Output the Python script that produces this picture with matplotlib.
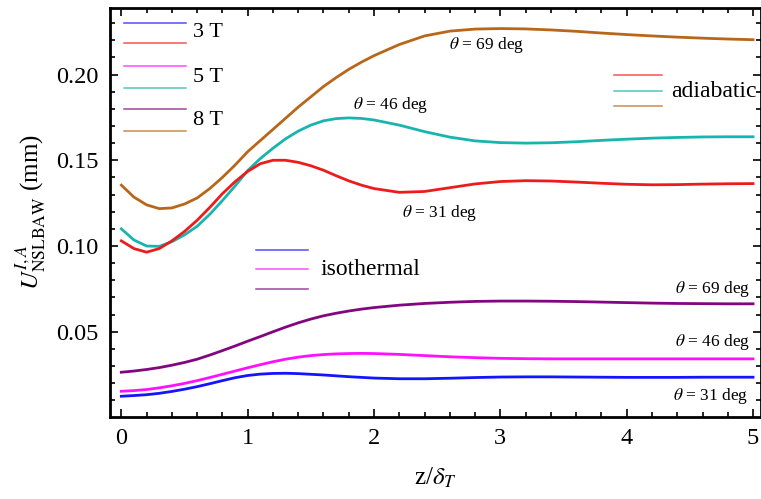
import matplotlib
matplotlib.use("Agg")
import matplotlib.pyplot as plt
from matplotlib.lines import Line2D
from matplotlib.ticker import MultipleLocator

plt.rcParams.update({
    "font.family": "serif",
    "font.serif": ["Liberation Serif", "DejaVu Serif"],
    "mathtext.fontset": "stix",
})

# --- data --------------------------------------------------------
z = [0.0, 0.1, 0.2, 0.3, 0.4, 0.5, 0.6, 0.7, 0.8, 0.9, 1.0,
     1.1, 1.2, 1.3, 1.4, 1.5, 1.6, 1.7, 1.8, 1.9, 2.0,
     2.2, 2.4, 2.6, 2.8, 3.0, 3.2, 3.4, 3.6, 3.8, 4.0, 4.2, 4.4, 4.6, 4.8, 5.0]

adi_3T = [0.1030, 0.0985, 0.0964, 0.0985, 0.1030, 0.1085, 0.1150, 0.1225, 0.1305, 0.1375, 0.1435,
          0.1480, 0.1500, 0.1500, 0.1488, 0.1468, 0.1442, 0.1410, 0.1380, 0.1355, 0.1335,
          0.1313, 0.1318, 0.1340, 0.1362, 0.1376, 0.1381, 0.1379, 0.1373, 0.1366, 0.1360,
          0.1357, 0.1358, 0.1361, 0.1363, 0.1364]
adi_5T = [0.1100, 0.1035, 0.1000, 0.0998, 0.1025, 0.1065, 0.1115, 0.1185, 0.1265, 0.1350, 0.1440,
          0.1510, 0.1570, 0.1625, 0.1670, 0.1705, 0.1730, 0.1743, 0.1747, 0.1744, 0.1735,
          0.1705, 0.1667, 0.1635, 0.1613, 0.1603, 0.1600, 0.1602, 0.1608, 0.1616, 0.1623,
          0.1629, 0.1633, 0.1636, 0.1637, 0.1637]
adi_8T = [0.1355, 0.1285, 0.1240, 0.1218, 0.1222, 0.1245, 0.1280, 0.1335, 0.1400, 0.1472, 0.1550,
          0.1615, 0.1680, 0.1745, 0.1810, 0.1870, 0.1930, 0.1982, 0.2030, 0.2072, 0.2110,
          0.2175, 0.2225, 0.2253, 0.2265, 0.2268, 0.2266, 0.2260, 0.2252, 0.2242, 0.2233,
          0.2225, 0.2218, 0.2212, 0.2207, 0.2203]

iso_3T = [0.0124, 0.0128, 0.0133, 0.0141, 0.0152, 0.0165, 0.0180, 0.0197, 0.0215, 0.0232, 0.0245,
          0.0253, 0.0257, 0.0258, 0.0256, 0.0252, 0.0248, 0.0243, 0.0238, 0.0234, 0.0230,
          0.0226, 0.0226, 0.0229, 0.0233, 0.0236, 0.0237, 0.0237, 0.0236, 0.0235, 0.0234,
          0.0234, 0.0234, 0.0235, 0.0235, 0.0235]
iso_5T = [0.0153, 0.0157, 0.0163, 0.0173, 0.0185, 0.0199, 0.0215, 0.0233, 0.0252, 0.0271, 0.0290,
          0.0308, 0.0325, 0.0340, 0.0352, 0.0361, 0.0367, 0.0371, 0.0373, 0.0374, 0.0373,
          0.0368, 0.0361, 0.0354, 0.0349, 0.0345, 0.0343, 0.0342, 0.0342, 0.0342, 0.0342,
          0.0342, 0.0342, 0.0342, 0.0342, 0.0342]
iso_8T = [0.0264, 0.0271, 0.0280, 0.0291, 0.0305, 0.0321, 0.0340, 0.0364, 0.0390, 0.0417, 0.0445,
          0.0472, 0.0500, 0.0527, 0.0552, 0.0574, 0.0593, 0.0608, 0.0621, 0.0632, 0.0641,
          0.0655, 0.0665, 0.0672, 0.0677, 0.0679, 0.0679, 0.0678, 0.0676, 0.0673, 0.0670,
          0.0667, 0.0665, 0.0664, 0.0663, 0.0663]

COLORS = {
    "blue": "#1414ff", "red": "#ec1c1c", "magenta": "#ff10ff",
    "teal": "#17b5ae", "purple": "#82067f", "brown": "#b8661a",
}

# -----------------------------------------------------------------
fig = plt.figure(figsize=(7.61, 4.99), dpi=100)
ax = fig.add_axes([0.1445, 0.164, 0.855, 0.820])

lw = 2.0
ax.plot(z, adi_8T, color=COLORS["brown"], lw=lw)
ax.plot(z, adi_5T, color=COLORS["teal"], lw=lw)
ax.plot(z, adi_3T, color=COLORS["red"], lw=lw)
ax.plot(z, iso_8T, color=COLORS["purple"], lw=lw)
ax.plot(z, iso_5T, color=COLORS["magenta"], lw=lw)
ax.plot(z, iso_3T, color=COLORS["blue"], lw=lw)

ax.set_xlim(-0.09, 5.06)
ax.set_ylim(0.0002, 0.2388)
ax.set_xticks([0, 1, 2, 3, 4, 5])
ax.set_yticks([0.05, 0.10, 0.15, 0.20])
ax.set_yticklabels(["0.05", "0.10", "0.15", "0.20"])
ax.xaxis.set_minor_locator(MultipleLocator(0.2))
ax.yaxis.set_minor_locator(MultipleLocator(0.01))
ax.tick_params(which="both", direction="in", top=True, right=True,
               labelsize=17.5, width=1.2, pad=8)
ax.tick_params(which="major", length=6)
ax.tick_params(which="minor", length=3.5)
for sp in ax.spines.values():
    sp.set_linewidth(2.0)

ax.set_xlabel(r"z/$\delta_T$", fontsize=18, labelpad=12)
ax.set_ylabel(r"$U^{I,A}_{\mathrm{NSLBAW}}$ (mm)", fontsize=18, labelpad=6)

# angle labels
ann_fs = 12.5
ax.text(2.89, 0.2172, r"$\theta$ = 69 deg", fontsize=ann_fs, ha="center", va="center")
ax.text(2.13, 0.1822, r"$\theta$ = 46 deg", fontsize=ann_fs, ha="center", va="center")
ax.text(2.52, 0.1192, r"$\theta$ = 31 deg", fontsize=ann_fs, ha="center", va="center")
ax.text(4.98, 0.0748, r"$\theta$ = 69 deg", fontsize=ann_fs, ha="right", va="center")
ax.text(4.98, 0.0441, r"$\theta$ = 46 deg", fontsize=ann_fs, ha="right", va="center")
ax.text(4.96, 0.0124, r"$\theta$ = 31 deg", fontsize=ann_fs, ha="right", va="center")

# hand-made legend keys (axes fraction)
def key(x0, x1, y, color):
    ax.add_line(Line2D([x0, x1], [y, y], transform=ax.transAxes,
                       color=color, lw=1.1, alpha=0.75))

field_keys = [("blue", 0.964), ("red", 0.914), ("magenta", 0.858),
              ("teal", 0.804), ("purple", 0.753), ("brown", 0.699)]
for c, y in field_keys:
    key(0.0215, 0.1169, y, COLORS[c])
for lab, y in [("3 T", 0.939), ("5 T", 0.831), ("8 T", 0.726)]:
    ax.text(0.128, y, lab, transform=ax.transAxes, fontsize=16, va="center")

for c, y in [("red", 0.836), ("teal", 0.798), ("brown", 0.760)]:
    key(0.774, 0.848, y, COLORS[c])
ax.text(0.862, 0.797, "adiabatic", transform=ax.transAxes, fontsize=17, va="center")

for c, y in [("blue", 0.408), ("magenta", 0.362), ("purple", 0.313)]:
    key(0.2246, 0.3046, y, COLORS[c])
ax.text(0.323, 0.362, "isothermal", transform=ax.transAxes, fontsize=17, va="center")

fig.savefig("out.png", dpi=100)
